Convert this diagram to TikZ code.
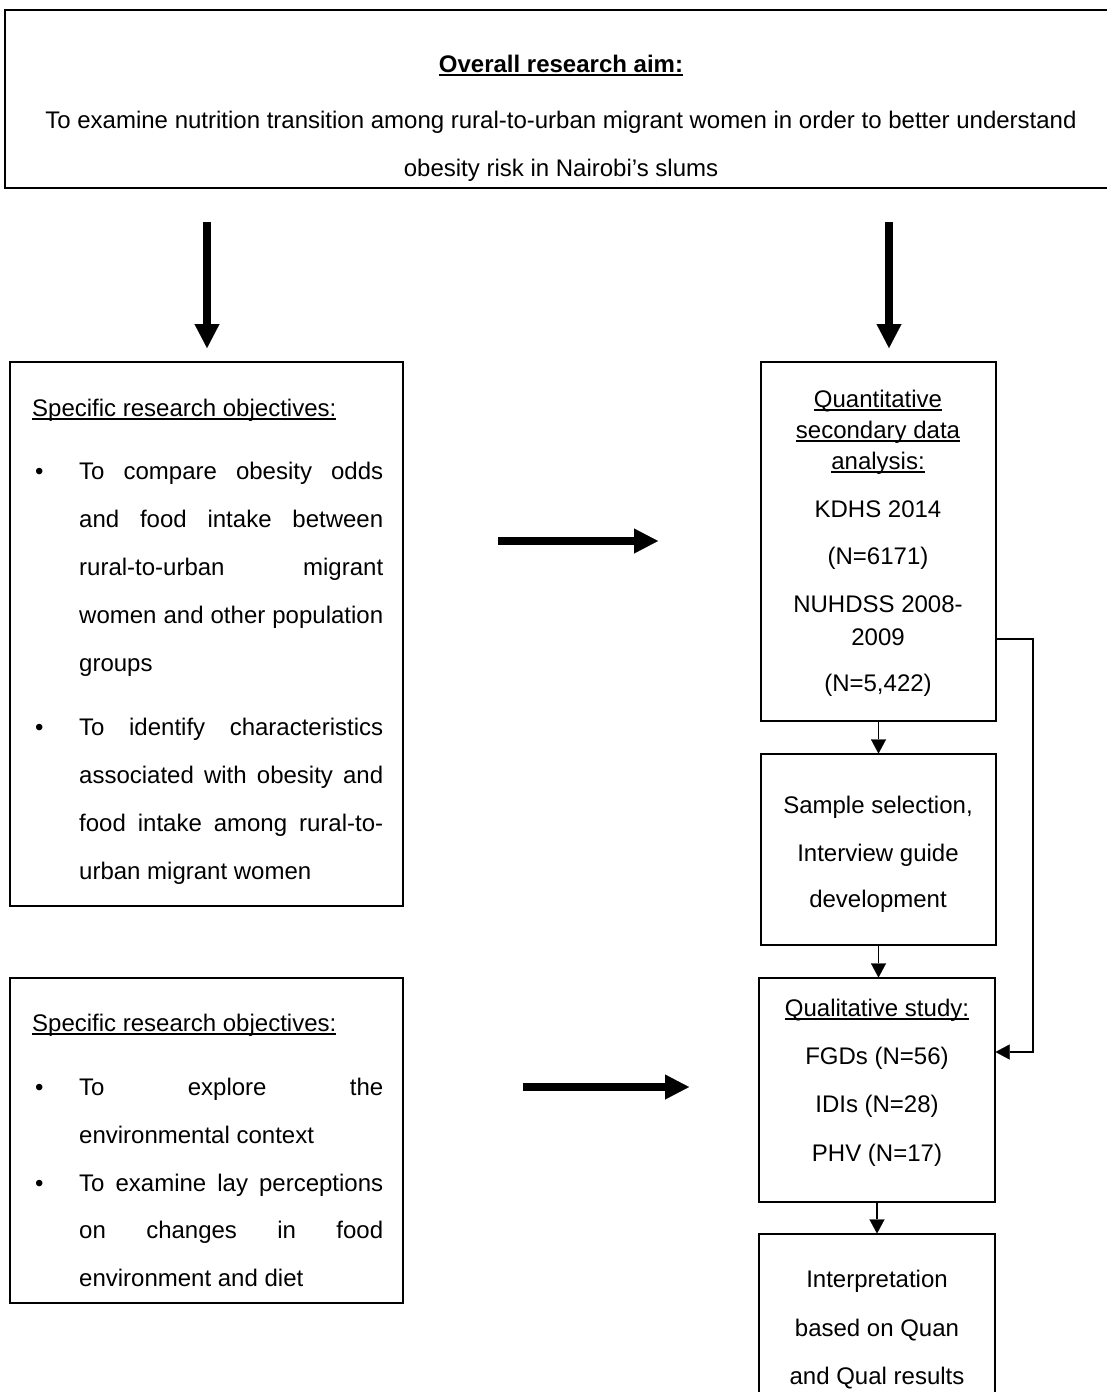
\documentclass[tikz,border=0pt]{standalone}
\usepackage{fontspec}
\setmainfont{Liberation Sans}
\usetikzlibrary{arrows.meta,fit}
\newcommand{\ulinetext}[1]{\setbox0\hbox{#1}\rlap{#1}\rule[-3.5pt]{\wd0}{1.6pt}}
\begin{document}
\begin{tikzpicture}[x=1pt,y=-1pt,
  frame/.style={draw=black, line width=1.1pt, inner sep=0pt, rectangle},
  topframe/.style={draw=black, line width=2.4pt, inner sep=0pt, rectangle},
  txt/.style={font=\fontsize{24pt}{29pt}\selectfont, inner sep=0pt},
  bigarrow/.style={line width=8pt, -{Triangle[length=24pt,width=25pt,line width=0.1pt]}},
  smallarrow/.style={line width=1.1pt, -{Triangle[length=14pt,width=15pt,line width=0.1pt]}}]
\useasboundingbox (0,0) rectangle (1106,1392);
\fill[white] (0,0) rectangle (1106,1392);

% top box
\node[topframe, fit={(5,10) (1118,188)}] (aim) {};
\node[txt, anchor=base, font=\fontsize{24pt}{29pt}\selectfont\bfseries] (aimh) at (561,72) {\ulinetext{Overall research aim:}};
\node[txt, anchor=base] (aim1) at (561,128) {To examine nutrition transition among rural-to-urban migrant women in order to better understand};
\node[txt, anchor=base] (aim2) at (561,176) {obesity risk in Nairobi’s slums};

% boxes
\node[frame, fit={(10,362) (403,906)}] (obj1) {};
\node[frame, fit={(10,978) (403,1303)}] (obj2) {};
\node[frame, fit={(761,362) (996,721)}] (quan) {};
\node[frame, fit={(761,754) (996,945)}] (samp) {};
\node[frame, fit={(759,978) (995,1202)}] (qual) {};
\node[frame, fit={(759,1234) (995,1420)}] (interp) {};

% objectives 1
\node[txt, anchor=base west] (o1h) at (32,416) {\ulinetext{Specific research objectives:}};
\node[txt, anchor=base west] (o1b1) at (35,479) {\textbullet};
\node[txt, anchor=base west] (o1l1) at (79,479) {\makebox[304pt][s]{To compare obesity odds}};
\node[txt, anchor=base west] (o1l2) at (79,527) {\makebox[304pt][s]{and food intake between}};
\node[txt, anchor=base west] (o1l3) at (79,575) {\makebox[304pt][s]{rural-to-urban migrant}};
\node[txt, anchor=base west] (o1l4) at (79,623) {\makebox[304pt][s]{women and other population}};
\node[txt, anchor=base west] (o1l5) at (79,671) {groups};
\node[txt, anchor=base west] (o1b2) at (35,735) {\textbullet};
\node[txt, anchor=base west] (o1l6) at (79,735) {\makebox[304pt][s]{To identify characteristics}};
\node[txt, anchor=base west] (o1l7) at (79,783) {\makebox[304pt][s]{associated with obesity and}};
\node[txt, anchor=base west] (o1l8) at (79,831) {\makebox[304pt][s]{food intake among rural-to-}};
\node[txt, anchor=base west] (o1l9) at (79,879) {urban migrant women};

% objectives 2
\node[txt, anchor=base west] (o2h) at (32,1031) {\ulinetext{Specific research objectives:}};
\node[txt, anchor=base west] (o2b1) at (35,1095) {\textbullet};
\node[txt, anchor=base west] (o2l1) at (79,1095) {\makebox[304pt][s]{To explore the}};
\node[txt, anchor=base west] (o2l2) at (79,1143) {environmental context};
\node[txt, anchor=base west] (o2b2) at (35,1191) {\textbullet};
\node[txt, anchor=base west] (o2l3) at (79,1191) {\makebox[304pt][s]{To examine lay perceptions}};
\node[txt, anchor=base west] (o2l4) at (79,1238) {\makebox[304pt][s]{on changes in food}};
\node[txt, anchor=base west] (o2l5) at (79,1286) {environment and diet};

% quantitative
\node[txt, anchor=base] (q1) at (878,407) {\ulinetext{Quantitative}};
\node[txt, anchor=base] (q2) at (878,438) {\ulinetext{secondary data}};
\node[txt, anchor=base] (q3) at (878,469) {\ulinetext{analysis:}};
\node[txt, anchor=base] (q4) at (878,517) {KDHS 2014};
\node[txt, anchor=base] (q5) at (878,564) {(N=6171)};
\node[txt, anchor=base] (q6) at (878,612) {NUHDSS 2008-};
\node[txt, anchor=base] (q7) at (878,645) {2009};
\node[txt, anchor=base] (q8) at (878,691) {(N=5,422)};

% sample
\node[txt, anchor=base] (s1) at (878,813) {Sample selection,};
\node[txt, anchor=base] (s2) at (878,861) {Interview guide};
\node[txt, anchor=base] (s3) at (878,907) {development};

% qualitative
\node[txt, anchor=base] (ql1) at (877,1016) {\ulinetext{Qualitative study:}};
\node[txt, anchor=base] (ql2) at (877,1064) {FGDs (N=56)};
\node[txt, anchor=base] (ql3) at (877,1112) {IDIs (N=28)};
\node[txt, anchor=base] (ql4) at (877,1161) {PHV (N=17)};

% interpretation
\node[txt, anchor=base] (i1) at (877,1287) {Interpretation};
\node[txt, anchor=base] (i2) at (877,1336) {based on Quan};
\node[txt, anchor=base] (i3) at (877,1384) {and Qual results};

% big arrows
\coordinate (va1s) at (207,222);
\coordinate (va1e) at (207,348);
\coordinate (va2s) at (889,222);
\coordinate (va2e) at (889,348);
\coordinate (ha1s) at (498,541);
\coordinate (ha1e) at (658,541);
\coordinate (ha2s) at (523,1087);
\coordinate (ha2e) at (689,1087);
\draw[bigarrow] (va1s) -- (va1e);
\draw[bigarrow] (va2s) -- (va2e);
\draw[bigarrow] (ha1s) -- (ha1e);
\draw[bigarrow] (ha2s) -- (ha2e);

% small arrows
\draw[smallarrow] (quan.south) -- (samp.north);
\draw[smallarrow] (samp.south) -- (samp.south |- qual.north);
\draw[smallarrow] (qual.south) -- (interp.north);
\coordinate (side) at (1033,639);
\draw[smallarrow] (quan.east |- side) -- (side) -- (side |- 0,1052) -- (qual.east |- 0,1052);
\end{tikzpicture}
\end{document}
